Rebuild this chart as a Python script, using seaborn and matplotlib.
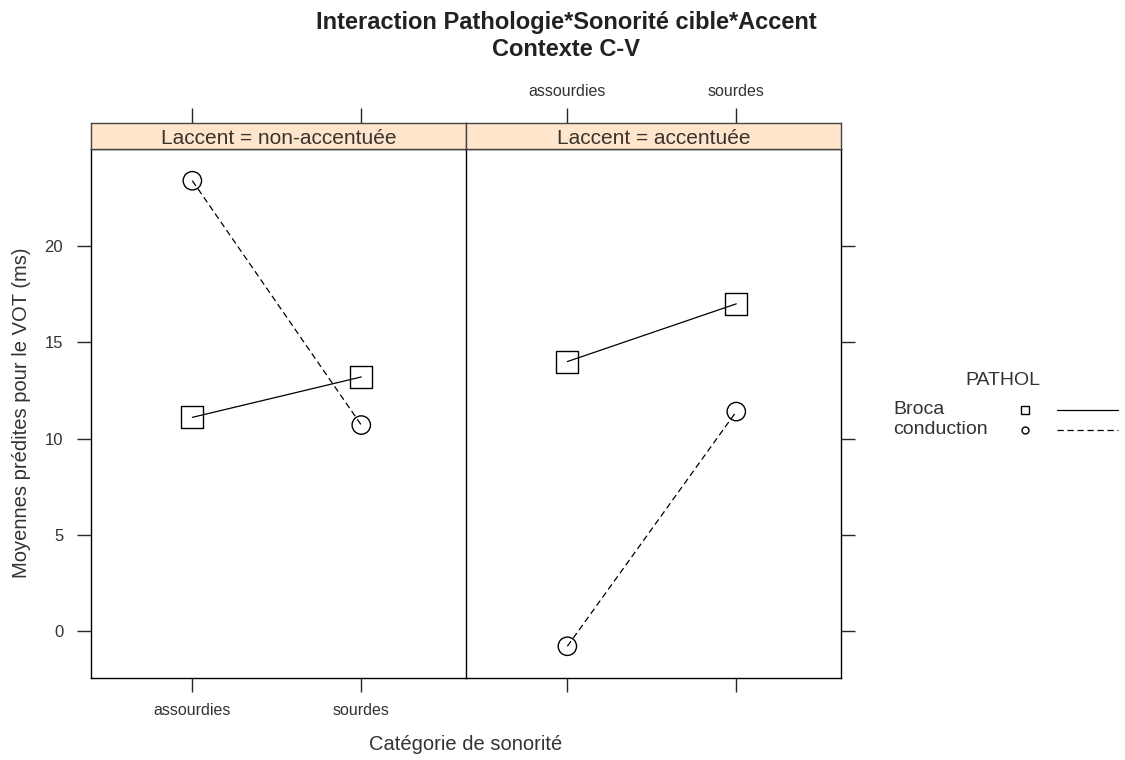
import numpy as np
import pandas as pd
import matplotlib
matplotlib.use("Agg")
import matplotlib.pyplot as plt
import seaborn as sns

# ─────────────────────────────────────────────
# Data
# ─────────────────────────────────────────────
sonorite = ["assourdies", "sourdes"]
accents = ["non-accentuée", "accentuée"]
pathol = ["Broca", "conduction"]

broca_non_acc = [11.1, 13.2]
conduction_non_acc = [23.4, 10.7]
broca_acc = [14.0, 17.0]
conduction_acc = [-0.8, 11.4]

rows = []
for acc, b_vals, c_vals in [(accents[0], broca_non_acc, conduction_non_acc),
                            (accents[1], broca_acc, conduction_acc)]:
    for i, s in enumerate(sonorite):
        rows.append({"Laccent": acc, "son": s, "x": i, "PATHOL": "Broca", "vot": b_vals[i]})
        rows.append({"Laccent": acc, "son": s, "x": i, "PATHOL": "conduction", "vot": c_vals[i]})
df = pd.DataFrame(rows)

# ─────────────────────────────────────────────
# Style
# ─────────────────────────────────────────────
sns.set_theme(style="white")
plt.rcParams["font.family"] = ["Liberation Sans", "DejaVu Sans"]
plt.rcParams["axes.linewidth"] = 1.0

W, H = 1125, 760
fig = plt.figure(figsize=(W / 100, H / 100), dpi=100)

def fx(px):
    return px / W

def fy(py):
    return 1 - py / H

TXT = "#333333"
panel_left = [91, 466]
panel_w = 375
top, bottom, strip_top = 149, 678, 123
XLIM = (-0.60, 1.62)
YLIM = (-2.45, 25.05)

dashes = {"Broca": "", "conduction": (5, 3)}
markers = {"Broca": "s", "conduction": "o"}
msize = {"Broca": 250, "conduction": 175}

for k, acc in enumerate(accents):
    left = panel_left[k]
    ax = fig.add_axes([fx(left), fy(bottom), fx(panel_w), (bottom - top) / H])
    sub = df[df["Laccent"] == acc]
    sns.lineplot(data=sub, x="x", y="vot", style="PATHOL", dashes=dashes,
                 color="black", lw=0.9, legend=False, ax=ax)
    for p in pathol:
        s = sub[sub["PATHOL"] == p]
        ax.scatter(s["x"], s["vot"], marker=markers[p], s=msize[p],
                   facecolors="none", edgecolors="black", linewidths=1.0, zorder=3)
    ax.set_xlim(*XLIM)
    ax.set_ylim(*YLIM)
    ax.set_xlabel("")
    ax.set_ylabel("")
    ax.set_xticks([0, 1])
    ax.set_yticks([0, 5, 10, 15, 20])
    for sp in ax.spines.values():
        sp.set_color("black")
    if k == 0:
        ax.set_xticklabels(sonorite, fontsize=11.5, color=TXT)
        ax.tick_params(axis="x", direction="out", length=10, width=1, pad=8, bottom=True)
        ax.tick_params(axis="y", direction="out", length=10, width=1, pad=10, left=True,
                       labelsize=12, labelcolor=TXT)
        ax.spines["right"].set_visible(False)
    else:
        ax.set_xticklabels([])
        ax.tick_params(axis="x", direction="out", length=10, width=1, bottom=True)
        ax.yaxis.tick_right()
        ax.tick_params(axis="y", direction="out", length=10, width=1, right=True,
                       labelright=False)

    # strip
    sax = fig.add_axes([fx(left), fy(top), fx(panel_w), (top - strip_top) / H])
    sax.set_facecolor("#ffe5cc")
    sax.set_xlim(*XLIM)
    sax.set_ylim(0, 1)
    sax.set_yticks([])
    sax.set_xticks([0, 1])
    sax.xaxis.tick_top()
    sax.tick_params(axis="x", direction="out", length=11, width=1, top=True, bottom=False,
                    labeltop=(k == 1), labelbottom=False, labelsize=11.5, pad=6,
                    labelcolor=TXT)
    if k == 1:
        sax.set_xticklabels(sonorite)
    for sp in sax.spines.values():
        sp.set_color("#444444")
    sax.text(0.5, 0.42, f"Laccent = {acc}", transform=sax.transAxes, ha="center",
             va="center", fontsize=15, color="#3a332e")

# Titles and axis labels
fig.text(fx(566), fy(22), "Interaction Pathologie*Sonorité cible*Accent", ha="center",
         va="center", fontsize=17, fontweight="bold", color="#222222")
fig.text(fx(566), fy(50), "Contexte C-V", ha="center", va="center", fontsize=17,
         fontweight="bold", color="#222222")
fig.text(fx(466), fy(744), "Catégorie de sonorité", ha="center", va="center",
         fontsize=14.5, color=TXT)
fig.text(fx(22), fy(413), "Moyennes prédites pour le VOT (ms)", ha="center", va="center",
         rotation=90, fontsize=14.5, color=TXT)

# Legend (lattice key style)
fig.text(fx(1003), fy(381), "PATHOL", ha="center", va="center", fontsize=14, color=TXT)
for j, p in enumerate(pathol):
    yy = fy(410 + j * 20)
    fig.text(fx(893), yy, p, ha="left", va="center", fontsize=14, color=TXT)
    fig.add_artist(plt.Line2D([fx(1025)], [yy], marker=markers[p],
                              markersize=6 if p == "Broca" else 5,
                              markerfacecolor="none", markeredgecolor="black",
                              markeredgewidth=1.0, linestyle="none"))
    fig.add_artist(plt.Line2D([fx(1057), fx(1118)], [yy, yy], color="black", lw=0.9,
                              linestyle="-" if p == "Broca" else (0, (5, 3))))

fig.savefig("out.png", dpi=100)
